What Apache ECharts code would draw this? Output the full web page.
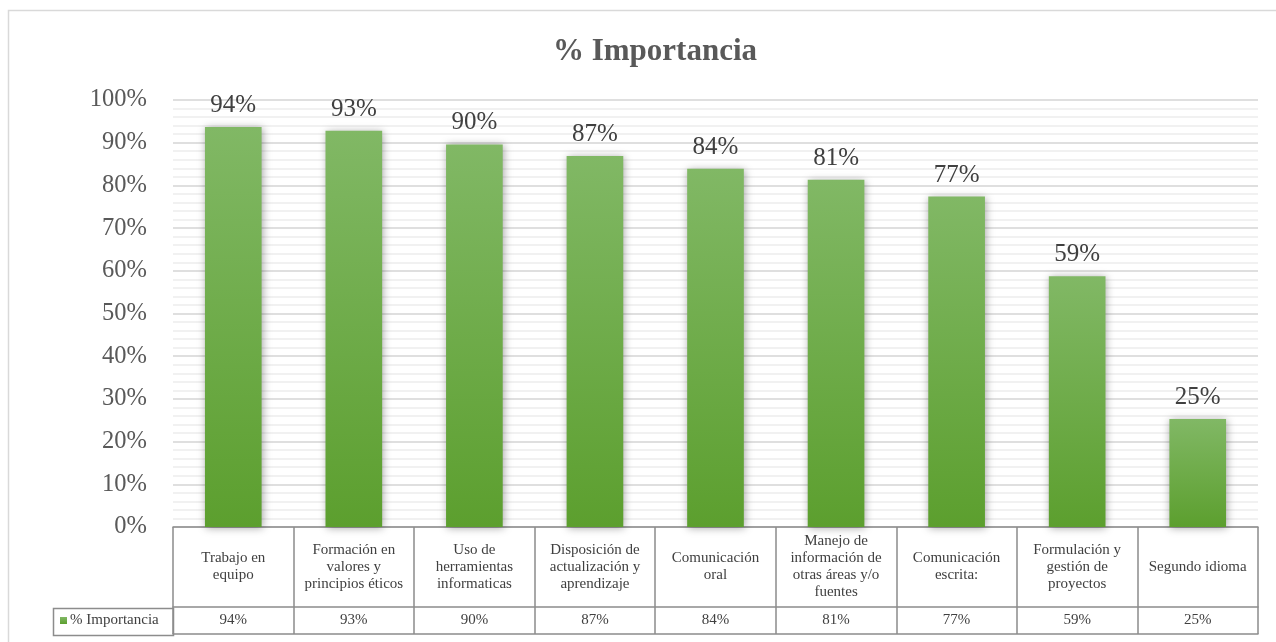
<!DOCTYPE html>
<html>
<head>
<meta charset="utf-8">
<script src="https://cdn.jsdelivr.net/npm/echarts@6/dist/echarts.min.js"></script>
<style>
html,body{margin:0;padding:0;background:#fff;}
#chart{width:1276px;height:642px;}
</style>
</head>
<body>
<div id="chart"></div>
<script>
const categories = [
  'Trabajo en\nequipo',
  'Formación en\nvalores y\nprincipios éticos',
  'Uso de\nherramientas\ninformaticas',
  'Disposición de\nactualización y\naprendizaje',
  'Comunicación\noral',
  'Manejo de\ninformación de\notras áreas y/o\nfuentes',
  'Comunicación\nescrita:',
  'Formulación y\ngestión de\nproyectos',
  'Segundo idioma'
];
const seriesName = '% Importancia';
const importancia = [93.7, 92.8, 89.6, 86.9, 83.9, 81.3, 77.4, 58.7, 25.3];
const valueLabels = ['94%', '93%', '90%', '87%', '84%', '81%', '77%', '59%', '25%'];
const yTicks = [0, 10, 20, 30, 40, 50, 60, 70, 80, 90, 100];

const serif = '"Liberation Serif", "Times New Roman", serif';
const tableColor = '#8c8c8c';

const chart = echarts.init(document.getElementById('chart'));
chart.setOption({
  animation: false,
  backgroundColor: '#ffffff',
  title: {
    text: seriesName,
    left: 650,
    textAlign: 'center',
    top: 31,
    textStyle: { fontFamily: serif, fontSize: 31, fontWeight: 'bold', color: '#595959' }
  },
  legend: {
    data: [seriesName],
    left: 60,
    top: 613,
    padding: 0,
    icon: 'rect',
    itemWidth: 7,
    itemHeight: 7,
    itemGap: 4,
    textStyle: { fontFamily: serif, fontSize: 15, color: '#404040', padding: [0, 0, 0, -2] }
  },
  graphic: [
    { type: 'rect', silent: true, z: -1,
      shape: { x: 8.5, y: 10.5, width: 1290, height: 650 },
      style: { fill: 'none', stroke: '#d9d9d9', lineWidth: 1.5 } },
    { type: 'rect', silent: true,
      shape: { x: 53.5, y: 608.5, width: 120, height: 27 },
      style: { fill: 'none', stroke: tableColor, lineWidth: 1.5 } }
  ],
  grid: { left: 173, right: 18, top: 100, bottom: 115, containLabel: false },
  xAxis: [
    {
      type: 'category',
      data: categories,
      position: 'bottom',
      axisLine: { show: true, lineStyle: { color: tableColor, width: 1.5 } },
      axisTick: { show: true, length: 80, lineStyle: { color: tableColor, width: 1.5 } },
      axisLabel: {
        interval: 0, margin: 40, verticalAlign: 'middle',
        fontFamily: serif, fontSize: 15, lineHeight: 17, color: '#404040', align: 'center'
      }
    },
    {
      type: 'category',
      data: valueLabels,
      position: 'bottom',
      offset: 80,
      axisLine: { show: true, lineStyle: { color: tableColor, width: 1.5 } },
      axisTick: { show: true, length: 27, lineStyle: { color: tableColor, width: 1.5 } },
      axisLabel: {
        interval: 0, margin: 13.5, verticalAlign: 'middle',
        fontFamily: serif, fontSize: 15, color: '#404040'
      }
    },
    {
      type: 'category',
      data: valueLabels,
      position: 'bottom',
      offset: 107,
      axisLine: { show: true, lineStyle: { color: tableColor, width: 1.5 } },
      axisTick: { show: false },
      axisLabel: { show: false }
    }
  ],
  yAxis: {
    type: 'value',
    min: yTicks[0],
    max: yTicks[yTicks.length - 1],
    interval: 10,
    axisLine: { show: false },
    axisTick: { show: false },
    axisLabel: {
      margin: 26,
      formatter: '{value}%',
      fontFamily: serif, fontSize: 24.5, color: '#595959'
    },
    splitLine: { show: true, lineStyle: { color: '#d4d4d4', width: 1.5 } },
    minorTick: { show: false, splitNumber: 5 },
    minorSplitLine: { show: true, lineStyle: { color: '#ededed', width: 1.5 } }
  },
  series: [{
    name: seriesName,
    type: 'bar',
    data: importancia,
    xAxisIndex: 0,
    barWidth: '47%',
    itemStyle: {
      color: new echarts.graphic.LinearGradient(0, 0, 0, 1, [
        { offset: 0, color: '#81b865' },
        { offset: 1, color: '#5c9f2e' }
      ]),
      shadowBlur: 8,
      shadowColor: 'rgba(0,0,0,0.35)',
      shadowOffsetX: 1,
      shadowOffsetY: 1
    },
    label: {
      show: true,
      position: 'top',
      distance: 9,
      formatter: p => Math.round(p.value) + '%',
      fontFamily: serif, fontSize: 25, color: '#404040'
    }
  }]
});
</script>
</body>
</html>
